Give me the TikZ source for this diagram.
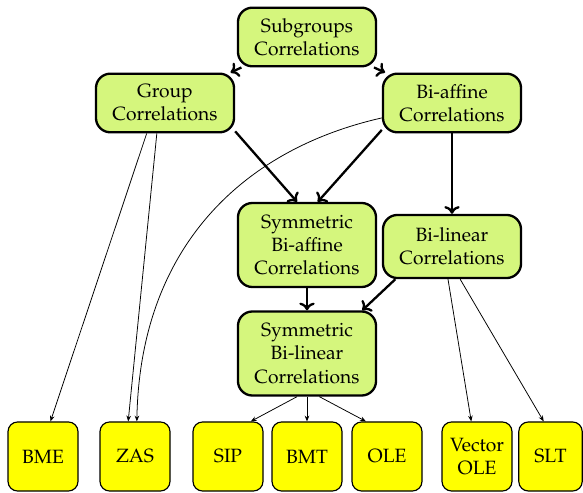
\documentclass[tikz,border=0pt]{standalone}
\usepackage[T1]{fontenc}
\usepackage{palatino}
\usepackage[dvipsnames]{xcolor}
\usetikzlibrary{arrows.meta}

\definecolor{corrgreen}{RGB}{213,246,125}
\definecolor{protyellow}{RGB}{255,255,0}

\tikzset{
  corr/.style={draw,very thick,rounded corners=7.5pt,fill=corrgreen,align=center,
    minimum width=71.8pt,minimum height=30.5pt,inner sep=1pt},
  prot/.style={draw,semithick,rounded corners=5pt,fill=protyellow,align=center,
    minimum width=36.4pt,minimum height=35.9pt,inner sep=1pt},
  implies/.style={very thick,-{To[length=4pt,width=8pt]}},
  realizes/.style={thin,-{Stealth[length=3pt,width=2.4pt]}}
}

\begin{document}
\begin{tikzpicture}[x=0.52pt,y=-0.52pt]
  \useasboundingbox (0,0) rectangle (583,493);
  % correlations
  \node[corr] (sub) at (307,37) {Subgroups\\Correlations};
  \node[corr] (group) at (165,103) {Group\\Correlations};
  \node[corr] (biaff) at (452,103) {Bi-affine\\Correlations};
  \node[corr,minimum height=43.7pt] (symbiaff) at (307,245) {Symmetric\\Bi-affine\\Correlations};
  \node[corr,minimum height=32.8pt] (bilin) at (452,246.5) {Bi-linear\\Correlations};
  \node[corr,minimum height=43.7pt] (symbilin) at (307,353.5) {Symmetric\\Bi-linear\\Correlations};
  % protocols
  \foreach \x/\n/\t in {43/bme/BME,135/zas/ZAS,228/sip/SIP,307/bmt/BMT,387/ole/OLE,477/vole/Vector\\OLE}
    \node[prot] (\n) at (\x,456.5) {\t};
  \node[prot,minimum width=33pt] (slt) at (550.5,456.5) {SLT};

  \draw[implies] (sub) -- (group);
  \draw[implies] (sub) -- (biaff);
  \draw[implies] (group.-22) -- (symbiaff.103);
  \draw[implies] (biaff.201) -- (symbiaff.76);
  \draw[implies] (biaff) -- (bilin);
  \draw[implies] (symbiaff) -- (symbilin);
  \draw[implies] (bilin.210) -- (symbilin.38);

  \draw[realizes] (group.239) -- (bme.78);
  \draw[realizes] (group.255) -- (zas.101);
  \draw[realizes] (biaff.192) .. controls (240,150) and (140,250) .. (zas.87);
  \draw[realizes] (symbilin.257) -- (sip.57);
  \draw[realizes] (symbilin) -- (bmt);
  \draw[realizes] (symbilin.286) -- (ole.121);
  \draw[realizes] (bilin.263) -- (vole);
  \draw[realizes] (bilin.284) -- (slt.101);
\end{tikzpicture}
\end{document}
